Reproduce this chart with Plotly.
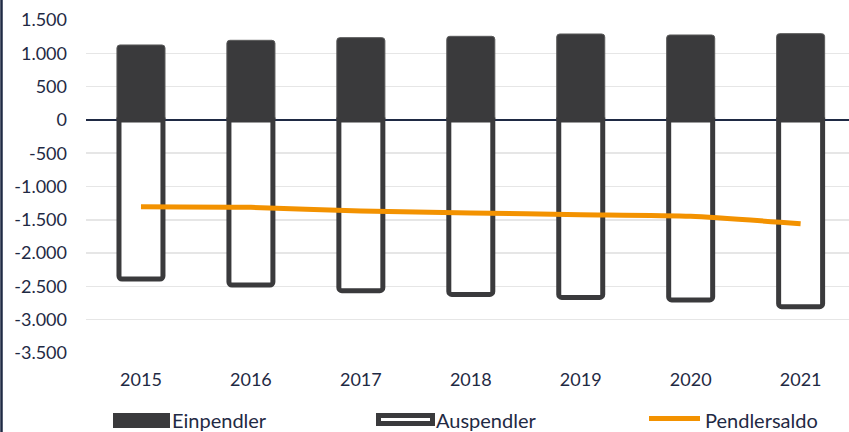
import plotly.graph_objects as go

years = ["2015", "2016", "2017", "2018", "2019", "2020", "2021"]
einpendler = [1125, 1195, 1235, 1255, 1290, 1275, 1295]
auspendler = [-2390, -2480, -2565, -2620, -2665, -2703, -2805]
pendlersaldo = [-1303, -1313, -1368, -1398, -1423, -1448, -1558]

y_tick_vals = [1500, 1000, 500, 0, -500, -1000, -1500, -2000, -2500, -3000, -3500]
y_tick_labels = ["1.500", "1.000", "500", "0", "-500", "-1.000", "-1.500",
                 "-2.000", "-2.500", "-3.000", "-3.500"]

W, H = 849, 432
ML, MR, MT, MB = 86, 0, 20, 79
PW, PH = W - ML - MR, H - MT - MB

def px(x):
    return (x - ML) / PW

def py(y):
    return (H - MB - y) / PH

TXT = "#1f2a44"
DARK = "#3a3a3c"
ORANGE = "#f39200"
FONT = "Lato"

fig = go.Figure()
fig.add_trace(go.Bar(
    x=years, y=einpendler, name="Einpendler", width=0.437,
    marker=dict(color=DARK, line=dict(color="#5a5a5a", width=1), cornerradius=3),
    showlegend=False, hoverinfo="skip",
))
fig.add_trace(go.Bar(
    x=years, y=auspendler, name="Auspendler", width=0.40,
    marker=dict(color="white", line=dict(color=DARK, width=5), cornerradius=3),
    showlegend=False, hoverinfo="skip",
))
fig.add_trace(go.Scatter(
    x=years, y=pendlersaldo, name="Pendlersaldo", mode="lines",
    line=dict(color=ORANGE, width=5, shape="spline", smoothing=0.6),
    showlegend=False, hoverinfo="skip",
))

LEG_Y = 419.5
shapes = [
    # left border line
    dict(type="line", xref="paper", yref="paper", x0=px(1.5), x1=px(1.5),
         y0=py(0), y1=py(H), line=dict(color=TXT, width=2.5)),
    # legend keys
    dict(type="rect", xref="paper", yref="paper", x0=px(113), x1=px(170),
         y0=py(LEG_Y - 6.5), y1=py(LEG_Y + 8.5), fillcolor=DARK, line=dict(width=0)),
    dict(type="rect", xref="paper", yref="paper", x0=px(378.5), x1=px(432.5),
         y0=py(LEG_Y - 4), y1=py(LEG_Y + 4), fillcolor="white", line=dict(color=DARK, width=5)),
    dict(type="line", xref="paper", yref="paper", x0=px(649), x1=px(700),
         y0=py(LEG_Y - 1), y1=py(LEG_Y - 1), line=dict(color=ORANGE, width=5)),
]
LEG_SIZE = 20
annotations = [
    dict(text="Einpendler", xref="paper", yref="paper", x=px(170), y=py(LEG_Y),
         xanchor="left", yanchor="middle", showarrow=False,
         font=dict(family=FONT, size=LEG_SIZE, color=TXT)),
    dict(text="Auspendler", xref="paper", yref="paper", x=px(434), y=py(LEG_Y),
         xanchor="left", yanchor="middle", showarrow=False,
         font=dict(family=FONT, size=LEG_SIZE, color=TXT)),
    dict(text="Pendlersaldo", xref="paper", yref="paper", x=px(703), y=py(LEG_Y),
         xanchor="left", yanchor="middle", showarrow=False,
         font=dict(family=FONT, size=LEG_SIZE, color=TXT)),
]

fig.update_layout(
    width=W, height=H, autosize=False,
    margin=dict(l=ML, r=MR, t=MT, b=MB, pad=0),
    paper_bgcolor="white", plot_bgcolor="white",
    barmode="overlay",
    font=dict(family=FONT, size=18, color=TXT),
    shapes=shapes, annotations=annotations,
    showlegend=False, hovermode=False,
)
fig.update_xaxes(
    type="category", range=[-0.5, 6.44], showgrid=False, showline=False,
    ticks="", ticklabelstandoff=14, tickfont=dict(family=FONT, size=18, color=TXT),
)
fig.update_yaxes(
    range=[-3500, 1500], tickvals=y_tick_vals, ticktext=y_tick_labels,
    showgrid=True, gridcolor="#e6e6e6", gridwidth=1.5,
    zeroline=True, zerolinecolor=TXT, zerolinewidth=2,
    showline=False, ticks="", ticklabelstandoff=18,
    tickfont=dict(family=FONT, size=18, color=TXT),
)

fig.write_html(
    "out.html",
    config={"displayModeBar": False, "staticPlot": True},
    post_script="document.body.style.margin='0';document.body.style.overflow='hidden';",
)
